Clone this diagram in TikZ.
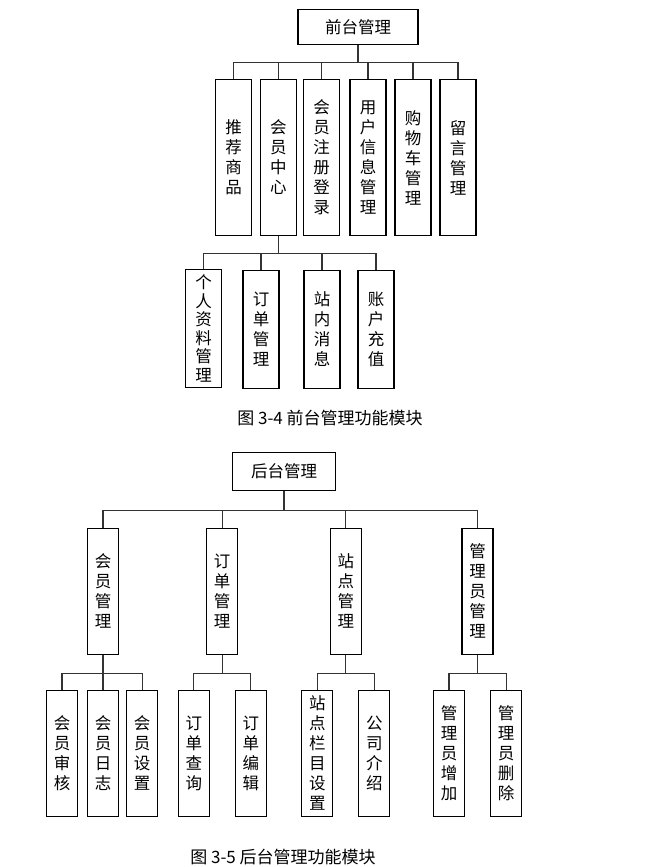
\documentclass[tikz,border=0pt]{standalone}
\usepackage{fontspec}
\setmainfont{Noto Sans CJK SC}
\usepackage{tikz}

\tikzset{
  box/.style={draw, line width=1.1pt, inner sep=0pt, align=center,
    font=\fontsize{16.5}{20}\selectfont},
  topbox/.style={box, minimum width=36, minimum height=156},
  subbox/.style={box, minimum width=36, minimum height=118},
  colbox/.style={box, minimum width=31, minimum height=126},
  link/.style={line width=1.1pt, draw=black!80},
  caption/.style={font=\fontsize{17}{20}\selectfont}
}

\begin{document}
\begin{tikzpicture}[x=1pt, y=-1pt]

\useasboundingbox (0,0) rectangle (662,867);

% front end
\node[box, minimum width=120, minimum height=35] (qt) at (358,26.7) {前台管理};

\node[topbox] (tj) at (233.5,157.5) {推\\荐\\商\\品};
\node[topbox] (hy) at (278.3,157.5) {会\\员\\中\\心};
\node[topbox] (zc) at (321.5,157.5) {会\\员\\注\\册\\登\\录};
\node[topbox] (yh) at (368,157.5) {用\\户\\信\\息\\管\\理};
\node[topbox] (gw) at (413,157.5) {购\\物\\车\\管\\理};
\node[topbox] (ly) at (458,157.5) {留\\言\\管\\理};

\draw[link] (qt.south) -- ++(0,17.7) coordinate (qbus);
\foreach \n in {tj,hy,zc,yh,gw,ly}
  \draw[link] (qbus) -| (\n.north);

\node[subbox, font=\fontsize{16.5}{18.5}\selectfont] (gr) at (203.7,328.5) {个\\人\\资\\料\\管\\理};
\node[subbox] (dd) at (261,329.5) {订\\单\\管\\理};
\node[subbox] (zn) at (322,329.5) {站\\内\\消\\息};
\node[subbox] (zh) at (376,329.5) {账\\户\\充\\值};

\draw[link] (hy.south) -- ++(0,17.8) coordinate (hbus);
\foreach \n in {gr,dd,zn,zh}
  \draw[link] (hbus) -| (\n.north);

\node[caption] (cap1) at (330,418) {图 3-4 前台管理功能模块};

% back end
\node[box, minimum width=103, minimum height=38] (ht) at (284,471.3) {后台管理};

\node[colbox] (hg) at (103,591.3) {会\\员\\管\\理};
\node[colbox] (dg) at (222.2,591.3) {订\\单\\管\\理};
\node[colbox] (zd) at (345.8,591.3) {站\\点\\管\\理};
\node[colbox] (gl) at (477.5,591.3) {管\\理\\员\\管\\理};

\draw[link] (ht.south) -- ++(0,19.7) coordinate (tbus);
\foreach \n in {hg,dg,zd,gl}
  \draw[link] (tbus) -| (\n.north);

\node[colbox] (sh) at (62,753.2) {会\\员\\审\\核};
\node[colbox] (rz) at (103,753.2) {会\\员\\日\\志};
\node[colbox] (sz) at (142.2,753.2) {会\\员\\设\\置};
\node[colbox] (cx) at (193.8,753.2) {订\\单\\查\\询};
\node[colbox] (bj) at (250.8,753.2) {订\\单\\编\\辑};
\node[colbox] (lm) at (317.3,753.2) {站\\点\\栏\\目\\设\\置};
\node[colbox] (gs) at (374.3,753.2) {公\\司\\介\\绍};
\node[colbox] (zj) at (449,753.2) {管\\理\\员\\增\\加};
\node[colbox] (sc) at (506.2,753.2) {管\\理\\员\\删\\除};

\draw[link] (hg.south) -- ++(0,18.4) coordinate (bus1);
\foreach \n in {sh,rz,sz}
  \draw[link] (bus1) -| (\n.north);
\draw[link] (dg.south) -- ++(0,18.4) coordinate (bus2);
\foreach \n in {cx,bj}
  \draw[link] (bus2) -| (\n.north);
\draw[link] (zd.south) -- ++(0,18.4) coordinate (bus3);
\foreach \n in {lm,gs}
  \draw[link] (bus3) -| (\n.north);
\draw[link] (gl.south) -- ++(0,18.4) coordinate (bus4);
\foreach \n in {zj,sc}
  \draw[link] (bus4) -| (\n.north);

\node[caption] (cap2) at (283,857) {图 3-5 后台管理功能模块};

\end{tikzpicture}
\end{document}
